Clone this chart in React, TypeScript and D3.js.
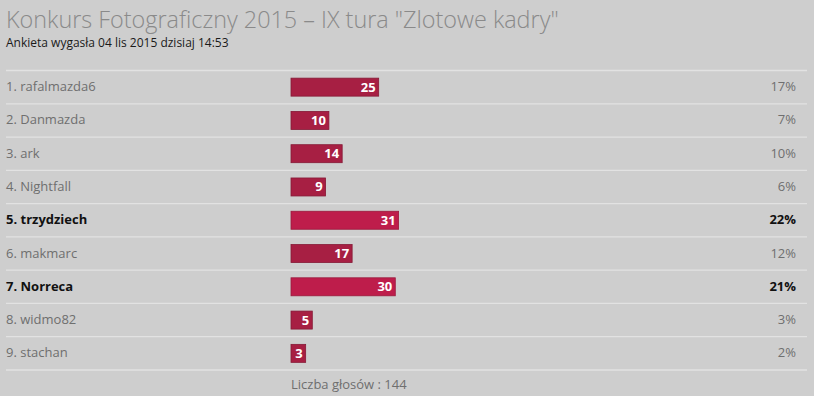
import React from "react";
import * as d3 from "d3";

const title = 'Konkurs Fotograficzny 2015 – IX tura "Zlotowe kadry"';
const subtitle = "Ankieta wygasła 04 lis 2015 dzisiaj 14:53";
const names = ["rafalmazda6", "Danmazda", "ark", "Nightfall", "trzydziech", "makmarc", "Norreca", "widmo82", "stachan"];
const votes = [25, 10, 14, 9, 31, 17, 30, 5, 3];
const percents = ["17%", "7%", "10%", "6%", "22%", "12%", "21%", "3%", "2%"];
const highlighted = [false, false, false, false, true, false, true, false, false];
const totalLabel = "Liczba głosów : 144";

const W = 814, H = 396;
const font = "'Segoe UI', 'Open Sans', 'Noto Sans', sans-serif";

export default function App() {
  const y = d3.scaleBand<number>().domain(d3.range(names.length)).range([70.5, 370]).padding(0);
  const w = d3.scaleLinear().domain([0, 31]).range([4.7, 107.6]);
  const barX = 291;
  const barH = 18;
  return (
    <svg width={W} height={H} style={{ position: "absolute", left: 0, top: 0, background: "#cecece" }}>
      <rect x={0} y={0} width={W} height={H} fill="#cecece" />
      <text x={6} y={28} fontFamily={font} fontSize={23.4} fontWeight={300} fill="#8a8a8a">{title}</text>
      <text x={6} y={47} fontFamily={font} fontSize={12} fill="#1a1a1a">{subtitle}</text>
      {names.map((n, i) => {
        const y0 = y(i)!;
        const cy = y0 + y.bandwidth() / 2;
        const bw = w(votes[i]);
        const hl = highlighted[i];
        return (
          <g key={n}>
            <line x1={6} x2={807} y1={y0} y2={y0} stroke="#e2e2e2" strokeWidth={1.3} />
            <text x={6} y={cy + 4} fontFamily={font} fontSize={13} fontWeight={hl ? 700 : 400} fill={hl ? "#111" : "#6f6f6f"}>
              {`${i + 1}. ${n}`}
            </text>
            <rect x={barX} y={cy - barH / 2} width={bw} height={barH} fill={hl ? "#be1d4b" : "#a71f43"} stroke={hl ? "#9a1a3c" : "#861a36"} strokeWidth={0.8} />
            <text x={barX + bw - 3} y={cy + 4.5} textAnchor="end" fontFamily={font} fontSize={13} fontWeight={700} fill="#ffffff">
              {votes[i]}
            </text>
            <text x={796} y={cy + 4} textAnchor="end" fontFamily={font} fontSize={13} fontWeight={hl ? 700 : 400} fill={hl ? "#111" : "#6f6f6f"}>
              {percents[i]}
            </text>
          </g>
        );
      })}
      <line x1={6} x2={807} y1={y.range()[1]} y2={y.range()[1]} stroke="#e2e2e2" strokeWidth={1.3} />
      <text x={291} y={389} fontFamily={font} fontSize={13} fill="#6f6f6f">{totalLabel}</text>
    </svg>
  );
}
